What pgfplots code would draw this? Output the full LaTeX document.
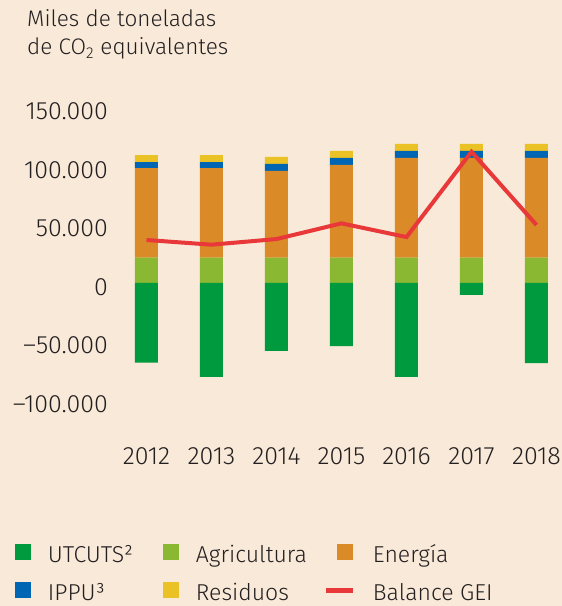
\documentclass[border=0pt]{standalone}
\usepackage{fontspec}
\setmainfont{Fira Sans Light}
\usepackage{pgfplots}
\usepackage{pgfplotstable}
\pgfplotsset{compat=1.18}

\definecolor{bg}{RGB}{248,233,216}
\definecolor{cUT}{RGB}{0,154,62}
\definecolor{cAgr}{RGB}{138,184,51}
\definecolor{cEne}{RGB}{218,138,39}
\definecolor{cIPPU}{RGB}{0,102,179}
\definecolor{cRes}{RGB}{235,194,37}
\definecolor{cRed}{RGB}{232,56,58}
\definecolor{txt}{RGB}{35,31,32}

% kt CO2 eq, x = 0..6 for 2012..2018
\pgfplotstableread{
x agr ene ippu res utc bal
0 21600 76500 5100 6000 -68000 36700
1 21600 76500 5100 6000 -80200 32700
2 21600 74000 6000 6000 -58000 37500
3 21600 79100 6000 6000 -53800 50900
4 21600 85100 6000 6000 -80200 39200
5 21600 85100 6000 6000 -10200 112000
6 21600 85100 6000 6000 -68300 49500
}\data

\pgfplotsset{
  frame/.style={scale only axis, width=442pt, height=316.4pt,
    xmin=-0.5, xmax=6.3, ymin=-110000, ymax=160000,
    at={(114pt,194.1pt)}, anchor=south west},
  sq/.style={legend image code/.code={\path[draw=none, fill=none] (-11pt,0pt) -- (16pt,0pt);
    \fill[#1, draw=none] (0pt,-7pt) rectangle (16pt,9pt);}},
}

\begin{document}
\begin{tikzpicture}
\fill[bg] (0,0) rectangle (562pt,606pt);

\node[anchor=base west, font=\fontsize{22.5}{27}\selectfont, text=txt, inner sep=0pt] at (27pt,579pt) {Miles de toneladas};
\node[anchor=base west, font=\fontsize{22.5}{27}\selectfont, text=txt, inner sep=0pt] at (27pt,551pt) {de CO\textsubscript{2} equivalentes};

% positive sectors, stacked
\begin{axis}[frame,
    ybar stacked, bar width=23pt,
    axis line style={draw=none}, major tick length=0pt,
    scaled y ticks=false,
    xtick={0,...,6}, xticklabels={2012,2013,2014,2015,2016,2017,2018},
    ytick={-100000,-50000,0,50000,100000,150000},
    yticklabels={–100.000,–50.000,0,50.000,100.000,150.000},
    tick label style={font=\fontsize{25}{30}\selectfont, text=txt, inner sep=0pt},
    yticklabel style={anchor=east, xshift=-6pt, yshift=-4pt},
    xticklabel style={anchor=north, yshift=-35pt},
  ]
  \addplot[fill=cAgr, draw=none] table[x=x, y=agr] {\data};
  \addplot[fill=cEne, draw=none] table[x=x, y=ene] {\data};
  \addplot[fill=cIPPU, draw=none] table[x=x, y=ippu] {\data};
  \addplot[fill=cRes, draw=none] table[x=x, y=res] {\data};
\end{axis}

% UTCUTS (negative) and the balance line
\begin{axis}[frame, hide axis,
    legend columns=3, legend cell align=left,
    legend style={at={(-0.2489,-0.4185)}, anchor=north west,
      draw=none, fill=none, inner sep=0pt, outer sep=0pt, row sep=20pt,
      nodes={inner sep=0pt, text height=18pt, text depth=0pt,
        font=\fontsize{23}{28}\selectfont, text=txt},
      /tikz/every odd column/.append style={column sep=17pt},
      /tikz/every even column/.append style={column sep=0pt}},
  ]
  \addplot[ybar, bar width=23pt, bar shift=0pt, fill=cUT, draw=none, forget plot] table[x=x, y=utc] {\data};
  \addplot[cRed, line width=4pt, mark=none, forget plot] table[x=x, y=bal] {\data};

  \addlegendimage{sq=cUT}
  \addlegendentry{\makebox[104pt][l]{UTCUTS²}}
  \addlegendimage{sq=cAgr}
  \addlegendentry{\makebox[128pt][l]{Agricultura}}
  \addlegendimage{sq=cEne}
  \addlegendentry{Energía}
  \addlegendimage{sq=cIPPU}
  \addlegendentry{\makebox[104pt][l]{IPPU³}}
  \addlegendimage{sq=cRes}
  \addlegendentry{\makebox[128pt][l]{Residuos}}
  \addlegendimage{legend image code/.code={\path[draw=none, fill=none] (-11pt,0pt) -- (16pt,0pt);
    \draw[cRed, line width=5pt] (-11pt,1pt) -- (16pt,1pt);}}
  \addlegendentry{Balance GEI}
\end{axis}

\pgfresetboundingbox
\useasboundingbox (0,0) rectangle (562pt,606pt);
\end{tikzpicture}
\end{document}
